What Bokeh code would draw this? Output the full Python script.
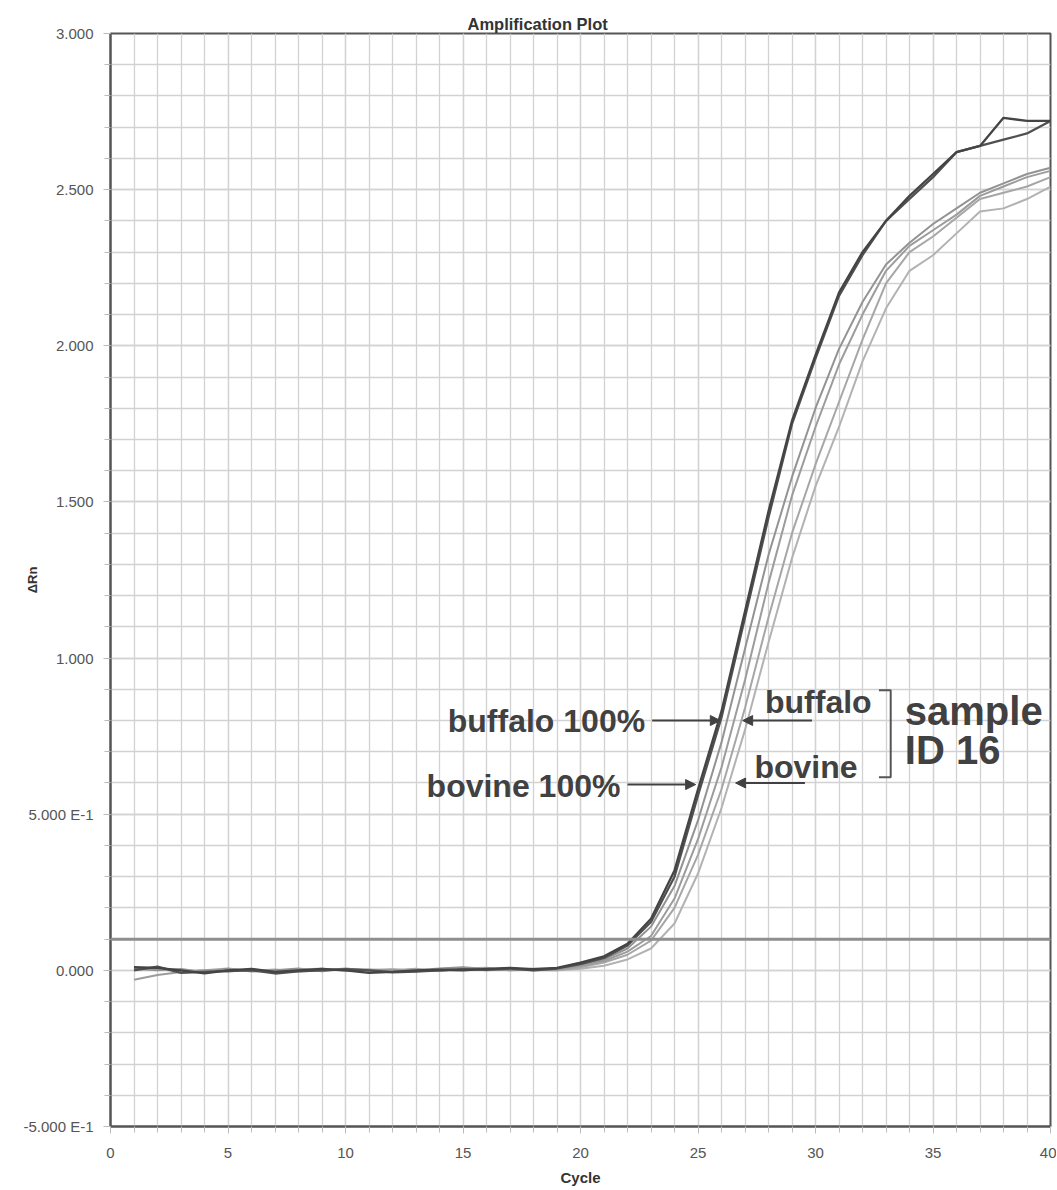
from bokeh.plotting import figure
from bokeh.models import FixedTicker, Span, Label, Arrow, NormalHead, Range1d
from bokeh.embed import file_html
from bokeh.resources import INLINE

# ---------------- data ----------------
cycles = list(range(1, 41))

buffalo_100 = [0.010, 0.008, 0.000, -0.010, 0.000, 0.005, -0.005, 0.000, 0.005, 0.000,
               -0.008, -0.005, 0.000, 0.002, 0.000, 0.005, 0.008, 0.004, 0.008,
               0.025, 0.045, 0.085, 0.165, 0.32, 0.58, 0.83, 1.15, 1.47, 1.76, 1.97,
               2.17, 2.30, 2.40, 2.48, 2.55, 2.62, 2.64, 2.73, 2.72, 2.72]
bovine_100 = [0.000, 0.012, -0.008, -0.005, -0.002, 0.000, -0.010, -0.003, 0.000, 0.004,
              0.000, -0.006, -0.004, 0.000, 0.004, 0.002, 0.006, 0.000, 0.006,
              0.020, 0.040, 0.080, 0.155, 0.30, 0.56, 0.81, 1.13, 1.45, 1.75, 1.96,
              2.16, 2.29, 2.40, 2.47, 2.54, 2.62, 2.64, 2.66, 2.68, 2.72]
sample_a = [0.005, 0.000, 0.004, -0.006, 0.005, -0.004, 0.000, 0.006, -0.003, 0.005,
            0.002, -0.004, 0.000, 0.006, 0.010, 0.004, 0.000, 0.005, 0.005,
            0.020, 0.035, 0.070, 0.140, 0.27, 0.48, 0.73, 1.03, 1.33, 1.58, 1.80,
            1.99, 2.14, 2.26, 2.33, 2.39, 2.44, 2.49, 2.52, 2.55, 2.57]
sample_b = [-0.030, -0.015, -0.005, 0.000, -0.004, 0.003, -0.006, 0.000, 0.004, 0.000,
            0.003, 0.000, -0.004, 0.004, 0.008, 0.000, 0.004, 0.000, 0.003,
            0.015, 0.030, 0.060, 0.110, 0.23, 0.42, 0.65, 0.93, 1.24, 1.52, 1.74,
            1.94, 2.10, 2.24, 2.32, 2.37, 2.42, 2.48, 2.51, 2.54, 2.56]
sample_c = [0.008, 0.004, -0.004, 0.000, 0.006, -0.002, 0.003, -0.004, 0.000, 0.006,
            -0.002, 0.000, 0.005, -0.002, 0.006, 0.008, 0.000, 0.002, 0.000,
            0.010, 0.025, 0.050, 0.095, 0.20, 0.37, 0.58, 0.84, 1.13, 1.40, 1.62,
            1.82, 2.02, 2.20, 2.30, 2.35, 2.41, 2.47, 2.49, 2.51, 2.54]
sample_d = [0.002, 0.006, 0.000, -0.004, 0.002, 0.000, -0.004, 0.002, 0.006, -0.002,
            0.000, 0.004, -0.002, 0.000, 0.004, 0.000, 0.006, 0.000, 0.000,
            0.005, 0.015, 0.035, 0.070, 0.15, 0.31, 0.52, 0.77, 1.05, 1.32, 1.55,
            1.74, 1.95, 2.12, 2.24, 2.29, 2.36, 2.43, 2.44, 2.47, 2.51]

threshold = 0.1

x_major = [0, 5, 10, 15, 20, 25, 30, 35, 40]
x_minor = list(range(0, 41))
y_major = [-0.5, 0.0, 0.5, 1.0, 1.5, 2.0, 2.5, 3.0]
y_minor = [round(-0.5 + 0.1 * i, 1) for i in range(36)]
y_labels = ["-5.000 E-1", "0.000", "5.000 E-1", "1.000", "1.500", "2.000", "2.500", "3.000"]

# ---------------- figure ----------------
FONT = "Liberation Sans"
DARK = "#444444"
TXT = "#414141"
GRID = "#d2d2d2"

p = figure(width=1056, height=1190, output_backend="svg", toolbar_location=None,
           x_range=Range1d(0, 40), y_range=Range1d(-0.5, 3.0),
           min_border_left=110, min_border_right=6, min_border_top=33, min_border_bottom=64,
           title="Amplification Plot")
p.background_fill_color = "white"
p.border_fill_color = "white"
p.outline_line_color = "#555555"
p.outline_line_width = 2

p.title.align = "left"
p.title.offset = 357
p.title.standoff = 2
p.title.text_font = FONT
p.title.text_font_size = "16.5px"
p.title.text_font_style = "bold"
p.title.text_color = "#333333"

p.xaxis.ticker = FixedTicker(ticks=x_major, minor_ticks=x_minor)
p.yaxis.ticker = FixedTicker(ticks=y_major, minor_ticks=y_minor)
p.yaxis.major_label_overrides = {v: s for v, s in zip(y_major, y_labels)}

for ax in (p.xaxis, p.yaxis):
    ax.axis_line_color = "#555555"
    ax.axis_line_width = 2
    ax.major_tick_line_color = "#bbbbbb"
    ax.minor_tick_line_color = "#bbbbbb"
    ax.major_tick_out = 7
    ax.major_tick_in = 0
    ax.minor_tick_out = 6
    ax.minor_tick_in = 0
    ax.major_label_text_font = FONT
    ax.major_label_text_font_size = "15px"
    ax.major_label_text_color = "#555555"
    ax.axis_label_text_font = FONT
    ax.axis_label_text_font_style = "bold"
    ax.axis_label_text_color = "#333333"
p.xaxis.major_label_standoff = 14
p.yaxis.major_label_standoff = 10
p.xaxis.axis_label = "Cycle"
p.xaxis.axis_label_text_font_size = "15px"
p.xaxis.axis_label_standoff = 8
p.yaxis.axis_label = "ΔRn"
p.yaxis.axis_label_text_font_size = "13px"
p.yaxis.axis_label_standoff = -20

for g in (p.xgrid, p.ygrid):
    g.grid_line_color = GRID
    g.grid_line_width = 1.3
    g.minor_grid_line_color = GRID
    g.minor_grid_line_width = 1.3

# threshold
p.add_layout(Span(location=threshold, dimension="width", line_color="#8f8f8f", line_width=3))

# curves
for ys, col in [(sample_d, "#b2b2b2"), (sample_c, "#a6a6a6"), (sample_b, "#9c9c9c"),
                (sample_a, "#939393")]:
    p.line(cycles, ys, line_color=col, line_width=2)
p.line(cycles, bovine_100, line_color="#505050", line_width=2.3)
p.line(cycles, buffalo_100, line_color=DARK, line_width=2.3)

# ---------------- annotations ----------------
def lab(x, y, text, size, align="left"):
    p.add_layout(Label(x=x, y=y, text=text, text_font=FONT, text_font_size=size,
                       text_font_style="bold", text_color=TXT,
                       text_align=align, text_baseline="middle"))

lab(22.75, 0.80, "buffalo 100%", "32px", align="right")
lab(21.70, 0.59, "bovine 100%", "32px", align="right")
lab(27.85, 0.86, "buffalo", "32px")
lab(27.40, 0.65, "bovine", "32px")
lab(33.80, 0.83, "sample", "40px")
lab(33.80, 0.705, "ID 16", "40px")

arrows = [(23.05, 0.80, 25.95, 0.80), (22.0, 0.595, 24.9, 0.595),
          (29.85, 0.80, 26.9, 0.80), (29.55, 0.60, 26.6, 0.60)]
for xs, ys_, xe, ye in arrows:
    p.add_layout(Arrow(x_start=xs, y_start=ys_, x_end=xe, y_end=ye, line_color=TXT,
                       line_width=2, end=NormalHead(size=10, fill_color=TXT, line_color=TXT)))

bracket_x = [32.7, 33.2, 33.2, 32.7]
bracket_y = [0.897, 0.897, 0.618, 0.618]
p.line(bracket_x, bracket_y, line_color="#555555", line_width=2)

open("out.html", "w").write(file_html(p, INLINE))
